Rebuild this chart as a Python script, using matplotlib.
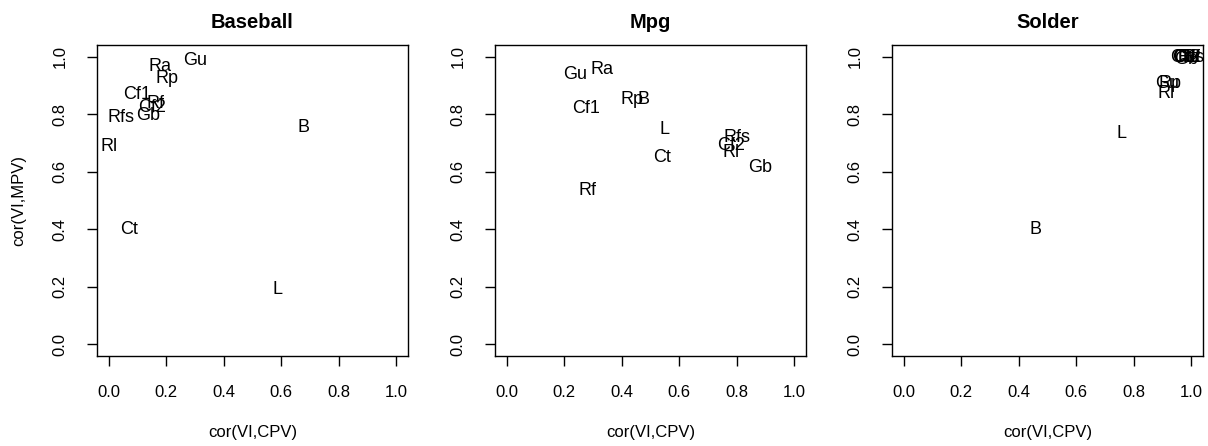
import matplotlib
matplotlib.use("Agg")
import matplotlib.pyplot as plt

plt.rcParams['font.family'] = ['Liberation Sans', 'DejaVu Sans']

# etiquetas y correlaciones
bb_lab = ["Gu", "Ra", "Rp", "Cf1", "Rf", "Cf2", "Gb", "Rfs", "Rl", "Ct", "B", "L"]
bb_cpv = [0.30, 0.18, 0.204, 0.10, 0.163, 0.152, 0.138, 0.045, 0.003, 0.073, 0.678, 0.588]
bb_mpv = [0.986, 0.965, 0.924, 0.868, 0.837, 0.823, 0.795, 0.788, 0.688, 0.40, 0.753, 0.19]

mpg_lab = ["Gu", "Ra", "Rp", "B", "Cf1", "L", "Rfs", "Cf2", "Rl", "Gb", "Ct", "Rf"]
mpg_cpv = [0.239, 0.332, 0.436, 0.474, 0.277, 0.547, 0.80, 0.78, 0.78, 0.879, 0.54, 0.28]
mpg_mpv = [0.9375, 0.955, 0.85, 0.85, 0.82, 0.747, 0.72, 0.69, 0.667, 0.615, 0.65, 0.535]

sol_lab = ["B", "L", "Gu", "Rp", "Rl", "Ct", "Cf1", "Cf2", "Gb", "Ra", "Rf", "Rfs"]
sol_cpv = [0.46, 0.758, 0.915, 0.925, 0.912, 0.965, 0.975, 0.985, 0.98, 0.99, 1.0, 1.0]
sol_mpv = [0.40, 0.733, 0.905, 0.905, 0.87, 0.995, 0.995, 0.995, 0.99, 0.995, 0.998, 0.995]

titles = ["Baseball", "Mpg", "Solder"]
datos = [(bb_lab, bb_cpv, bb_mpv), (mpg_lab, mpg_cpv, mpg_mpv), (sol_lab, sol_cpv, sol_mpv)]
ticks = [0.0, 0.2, 0.4, 0.6, 0.8, 1.0]

fig = plt.figure(figsize=(12.08, 4.46), dpi=100)
lefts = [97 / 1208, 495 / 1208, 892 / 1208]
for i in range(3):
    ax = fig.add_axes([lefts[i], 1 - 356 / 446, 311 / 1208, 311 / 446])
    lab, x, y = datos[i]
    for k in range(len(lab)):
        ax.text(x[k], y[k], lab[k], ha="center", va="center", fontsize=13, clip_on=True)
    ax.set_xlim(-0.04, 1.04)
    ax.set_ylim(-0.04, 1.04)
    ax.set_xticks(ticks)
    ax.set_yticks(ticks)
    ax.set_xticklabels(["%.1f" % t for t in ticks])
    ax.set_yticklabels(["%.1f" % t for t in ticks], rotation=90, va="center")
    ax.tick_params(direction="out", length=7, width=1, labelsize=12, pad=14)
    for s in ax.spines.values():
        s.set_linewidth(1)
    ax.set_title(titles[i], fontsize=14.5, fontweight="bold", pad=12)
    ax.set_xlabel("cor(VI,CPV)", fontsize=12, labelpad=18)
    if i == 0:
        ax.set_ylabel("cor(VI,MPV)", fontsize=12, labelpad=19)

plt.savefig("out.png", dpi=100)
